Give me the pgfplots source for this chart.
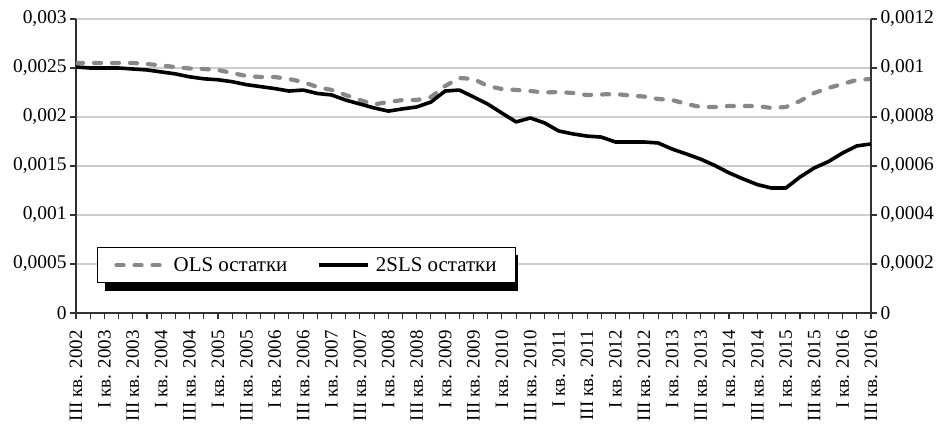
\documentclass[border=0pt]{standalone}
\usepackage{pgfplots}
\pgfplotsset{compat=1.18}
\usepackage{pgfplotstable}
\usepackage{fontspec}
\setmainfont{Liberation Serif}
\definecolor{olsgray}{RGB}{136,136,136}
\definecolor{gridgray}{RGB}{205,205,205}
\definecolor{axisdark}{RGB}{50,50,50}

\pgfplotstableread{
i ols
0 0.002551
1 0.002551
2 0.002551
3 0.002551
4 0.002551
5 0.002541
6 0.002526
7 0.002510
8 0.002495
9 0.002490
10 0.002480
11 0.002449
12 0.002418
13 0.002408
14 0.002408
15 0.002388
16 0.002357
17 0.002306
18 0.002276
19 0.002224
20 0.002173
21 0.002128
22 0.002153
23 0.002173
24 0.002173
25 0.002204
26 0.002316
27 0.002398
28 0.002388
29 0.002316
30 0.002286
31 0.002276
32 0.002265
33 0.002250
34 0.002255
35 0.002245
36 0.002224
37 0.002230
38 0.002235
39 0.002219
40 0.002209
41 0.002184
42 0.002173
43 0.002133
44 0.002102
45 0.002102
46 0.002112
47 0.002112
48 0.002112
49 0.002092
50 0.002102
51 0.002163
52 0.002245
53 0.002296
54 0.002337
55 0.002378
56 0.002388
}\olsdata

\pgfplotstableread{
i tsls
0 0.001004
1 0.001000
2 0.001000
3 0.001000
4 0.000996
5 0.000992
6 0.000984
7 0.000976
8 0.000964
9 0.000956
10 0.000952
11 0.000944
12 0.000932
13 0.000924
14 0.000916
15 0.000906
16 0.000910
17 0.000896
18 0.000890
19 0.000869
20 0.000853
21 0.000837
22 0.000824
23 0.000833
24 0.000841
25 0.000861
26 0.000906
27 0.000910
28 0.000882
29 0.000853
30 0.000816
31 0.000780
32 0.000796
33 0.000776
34 0.000743
35 0.000731
36 0.000722
37 0.000718
38 0.000698
39 0.000698
40 0.000698
41 0.000694
42 0.000669
43 0.000649
44 0.000628
45 0.000602
46 0.000572
47 0.000547
48 0.000524
49 0.000510
50 0.000510
51 0.000555
52 0.000592
53 0.000618
54 0.000653
55 0.000682
56 0.000690
}\tslsdata

\pgfplotsset{
  common/.style={
    width=795bp, height=294bp, scale only axis,
    xmin=0, xmax=56,
    scaled y ticks=false,
    /pgf/number format/assume math mode=true,
    yticklabel style={font=\fontsize{19.5}{21}\selectfont, text=black, /pgf/number format/.cd, fixed, use comma, precision=4, 1000 sep={}},
    xticklabel style={font=\fontsize{19}{21}\selectfont, text=black},
    tick align=outside,
    major tick length=6bp, minor tick length=6bp,
    every tick/.style={axisdark, line width=1.1bp},
    axis line style={-, axisdark, line width=1.3bp},
    legend columns=2,
    legend image code/.code={\draw[#1] (0bp,0bp) -- (49bp,0bp);},
    legend cell align=left,
  },
  legbase/.style={anchor=north west, line width=1bp,
    font=\fontsize{21}{23}\selectfont, inner xsep=17bp, inner ysep=8bp,
    /tikz/every odd column/.append style={column sep=4bp},
    /tikz/every even column/.append style={column sep=28bp}},
}

\begin{document}
\begin{tikzpicture}
\useasboundingbox (-76bp,-117bp) rectangle (871bp,313bp);
\begin{axis}[common,
  ymin=0, ymax=0.003,
  ytick={0,0.0005,0.001,0.0015,0.002,0.0025,0.003},
  axis y line*=left, axis x line*=bottom,
  ytick pos=left, xtick pos=lower,
  ymajorgrids, grid style={gridgray, line width=1.2bp},
  xtick={0,2,...,56}, minor xtick={1,3,...,55},
  xticklabels={{III кв. 2002},{I кв. 2003},{III кв. 2003},{I кв. 2004},{III кв. 2004},{I кв. 2005},{III кв. 2005},{I кв. 2006},{III кв. 2006},{I кв. 2007},{III кв. 2007},{I кв. 2008},{III кв. 2008},{I кв. 2009},{III кв. 2009},{I кв. 2010},{III кв. 2010},{I кв. 2011},{III кв. 2011},{I кв. 2012},{III кв. 2012},{I кв. 2013},{III кв. 2013},{I кв. 2014},{III кв. 2014},{I кв. 2015},{III кв. 2015},{I кв. 2016},{III кв. 2016}},
  xticklabel style={rotate=90, anchor=east},
  xticklabel shift=8bp,
  legend style={legbase, at={(0.0365,0.1973)}, draw=black, fill=black},
]
\addplot[olsgray, line width=4.2bp, line cap=round, dash pattern=on 7bp off 11bp, forget plot] table[x=i, y=ols] {\olsdata};
\addlegendimage{black}
\addlegendentry{\phantom{OLS остатки}}
\addlegendimage{black}
\addlegendentry{\phantom{2SLS остатки}}
\end{axis}
\begin{axis}[common,
  ymin=0, ymax=0.0012,
  ytick={0,0.0002,0.0004,0.0006,0.0008,0.001,0.0012},
  axis y line*=right, axis x line=none,
  ytick pos=right,
  legend style={legbase, at={(0.0264,0.2245)}, draw=black, fill=white},
]
\addlegendimage{olsgray, line width=4.2bp, line cap=round, dash pattern=on 7bp off 11bp}
\addlegendentry{OLS остатки}
\addplot[black, line width=3.6bp, line join=round] table[x=i, y=tsls] {\tslsdata};
\addlegendentry{2SLS остатки}
\end{axis}
\end{tikzpicture}
\end{document}
